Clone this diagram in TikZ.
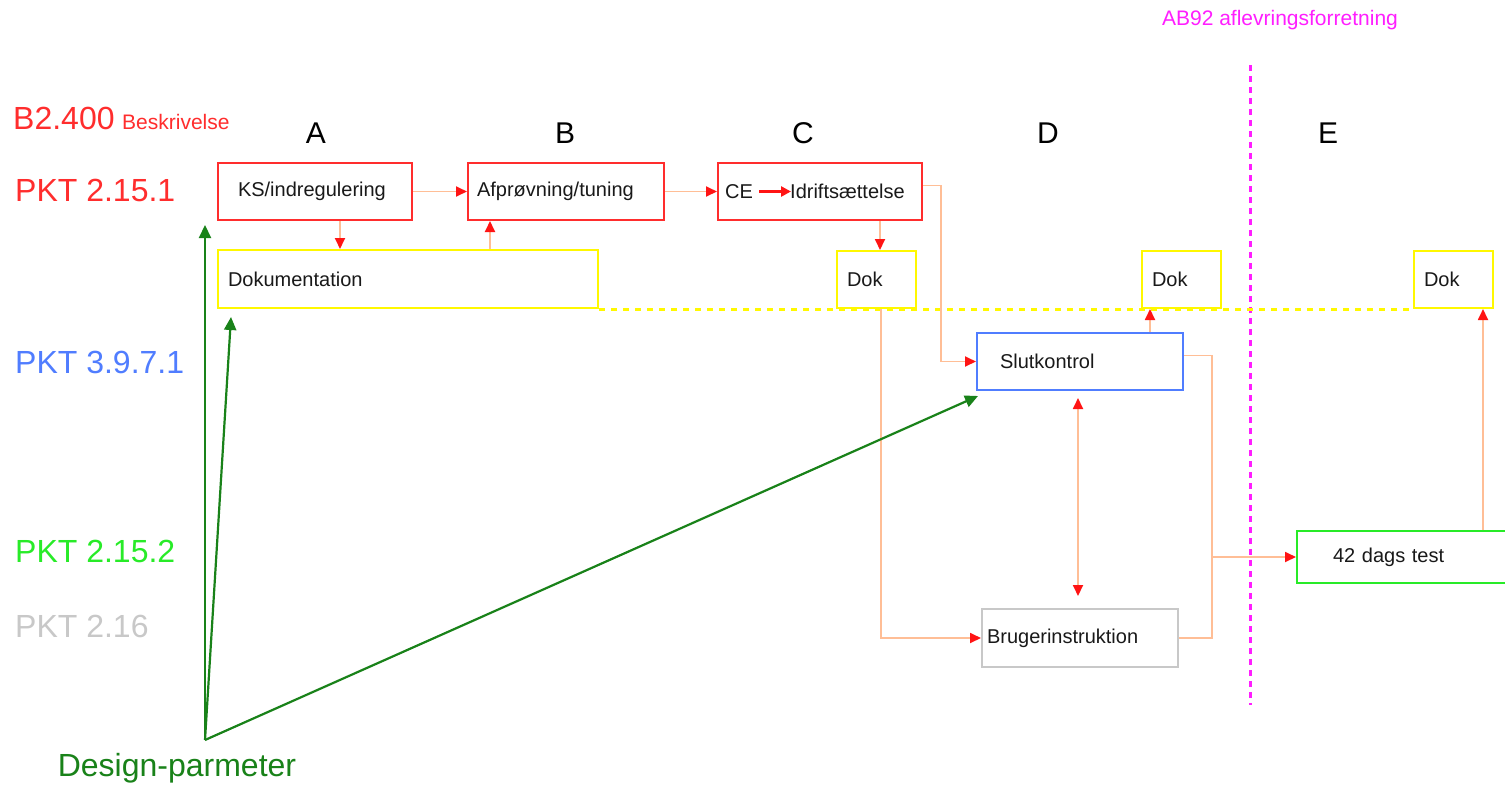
\documentclass[tikz,border=0pt]{standalone}
\usepackage{fontspec}
\setmainfont{Liberation Sans}
\usetikzlibrary{arrows.meta,calc}
\definecolor{cred}{RGB}{255,45,45}
\definecolor{cblue}{RGB}{80,125,255}
\definecolor{cgreen}{RGB}{40,235,40}
\definecolor{cgray}{RGB}{200,200,200}
\definecolor{cdgreen}{RGB}{25,130,25}
\definecolor{cmag}{RGB}{255,30,255}
\definecolor{cyel}{RGB}{255,248,0}
\definecolor{cpeach}{RGB}{255,190,150}
\definecolor{ctip}{RGB}{255,20,20}
\begin{document}
\begin{tikzpicture}[x=1pt,y=-1pt,
  >={Triangle[length=11pt,width=10pt,color=ctip]},
  box/.style={draw, line width=2pt, minimum height=57pt, inner ysep=0pt, font=\fontsize{20}{24}\selectfont, align=left, text=black!90},
  txt/.style={inner sep=0pt, font=\fontsize{20}{24}\selectfont, text=black!90},
  letter/.style={inner sep=0pt, font=\fontsize{30}{36}\selectfont},
  pkt/.style={inner sep=0pt, anchor=west, font=\fontsize{32}{38}\selectfont},
  conn/.style={draw=cpeach, line width=1.8pt, ->},
  plain/.style={draw=cpeach, line width=1.8pt},
  gconn/.style={draw=cdgreen, line width=2.2pt, -{Triangle[length=13pt,width=12pt]}}
]
\clip (0,0) rectangle (1505,785);
\fill[white] (0,0) rectangle (1505,785);

% header labels
\node[inner sep=0pt, text=cmag, font=\fontsize{21}{25}\selectfont] (ab) at (1280,20) {AB92 aflevringsforretning};
\node[inner sep=0pt, anchor=base west, text=cred, font=\fontsize{32}{38}\selectfont] (b24) at (13,129) {B2.400};
\node[inner sep=0pt, anchor=base west, text=cred, font=\fontsize{21}{25}\selectfont] (besk) at (122,129) {Beskrivelse};
\node[pkt, text=cred] (p1) at (15,190) {PKT 2.15.1};
\node[pkt, text=cblue] (p2) at (15,362) {PKT 3.9.7.1};
\node[pkt, text=cgreen] (p3) at (15,551) {PKT 2.15.2};
\node[pkt, text=cgray] (p4) at (15,626) {PKT 2.16};
\node[inner sep=0pt, text=cdgreen, font=\fontsize{32}{38}\selectfont] (dpl) at (177,768) {Design-parmeter};

\node[letter] (la) at (316,133) {A};
\node[letter] (lb) at (565,133) {B};
\node[letter] (lc) at (803,133) {C};
\node[letter] (ld) at (1048,133) {D};
\node[letter] (le) at (1328,133) {E};

% magenta divider
\coordinate (m1) at (1250,65);
\coordinate (m2) at (1250,705);
\draw[cmag, line width=3pt, dash pattern=on 6pt off 5pt] (m1) -- (m2);

% boxes
\node[box, draw=cred, text width=154pt, inner xsep=20pt] (ks) at (315,191.5) {KS/indregulering};
\node[box, draw=cred, text width=178pt, inner xsep=9pt] (af) at (566,191.5) {Afprøvning/tuning};
\node[box, draw=cred, minimum width=204pt, inner xsep=0pt] (ce) at (820,191.5) {};
\node[txt, anchor=west] (cet) at (725,191.5) {CE};
\node[txt, anchor=west] (idr) at (790,191.5) {Idriftsættelse};

\node[box, draw=cyel, text width=360pt, inner xsep=10pt, minimum height=58pt] (dokum) at (408,279) {Dokumentation};
\node[box, draw=cyel, text width=59pt, inner xsep=10pt] (dokc) at (876.5,279.5) {Dok};
\node[box, draw=cyel, text width=59pt, inner xsep=10pt] (dokd) at (1181.5,279.5) {Dok};
\node[box, draw=cyel, text width=59pt, inner xsep=10pt] (doke) at (1453.5,279.5) {Dok};

\node[box, draw=cblue, text width=160pt, inner xsep=23pt] (slut) at (1080,361.5) {Slutkontrol};
\node[box, draw=cgray, text width=186pt, inner xsep=5pt, minimum height=58pt] (brug) at (1080,638) {Brugerinstruktion};
\node[box, draw=cgreen, text width=141pt, inner xsep=36pt, minimum height=52pt] (t42) at (1403.5,557) {42 dags test};

% yellow dotted baseline
\draw[cyel, line width=3pt, dash pattern=on 6pt off 6pt] (dokum.south east) -- (doke.south west);

% connectors
\draw[conn] (ks.east) -- (af.west);
\draw[conn] ([xshift=25]ks.south) -- ([xshift=-68]dokum.north);
\draw[conn] ([xshift=82]dokum.north) -- ([xshift=-76]af.south);
\draw[conn] (af.east) -- (ce.west);
\draw[ctip, line width=2.5pt, -{Triangle[length=10pt,width=10pt]}] ([xshift=6]cet.east) -- ([xshift=1]idr.west);
\draw[conn] ([xshift=60]ce.south) -- ([xshift=3.5]dokc.north);
\draw[conn] ([yshift=6]ce.east) -- ++(18,0) |- (slut.west);
\draw[conn] ([xshift=4.5]dokc.south) |- (brug.west);
\draw[conn] ([xshift=70]slut.north) -- ([xshift=-31.5]dokd.south);
\draw[plain, {Triangle[length=11pt,width=10pt,color=ctip]}-{Triangle[length=11pt,width=10pt,color=ctip]}, shorten <=7pt, shorten >=12pt] ([xshift=-2]slut.south) -- ([xshift=-2]brug.north);
\coordinate (j) at (1212,557);
\draw[plain] ([yshift=6]slut.east) -| (j);
\draw[plain] (brug.east) -| (j);
\draw[conn] (j) -- (t42.west);
\draw[conn] ([xshift=79.5]t42.north) -- ([xshift=29.5]doke.south);

% design parameter arrows
\coordinate (dp) at (205,740);
\coordinate (g1) at (205,225);
\draw[gconn] (dp) -- (g1);
\draw[gconn] (dp) -- ([xshift=14,yshift=-8]dokum.south west);
\draw[gconn] (dp) -- ([xshift=2,yshift=-5]slut.south west);
\end{tikzpicture}
\end{document}
